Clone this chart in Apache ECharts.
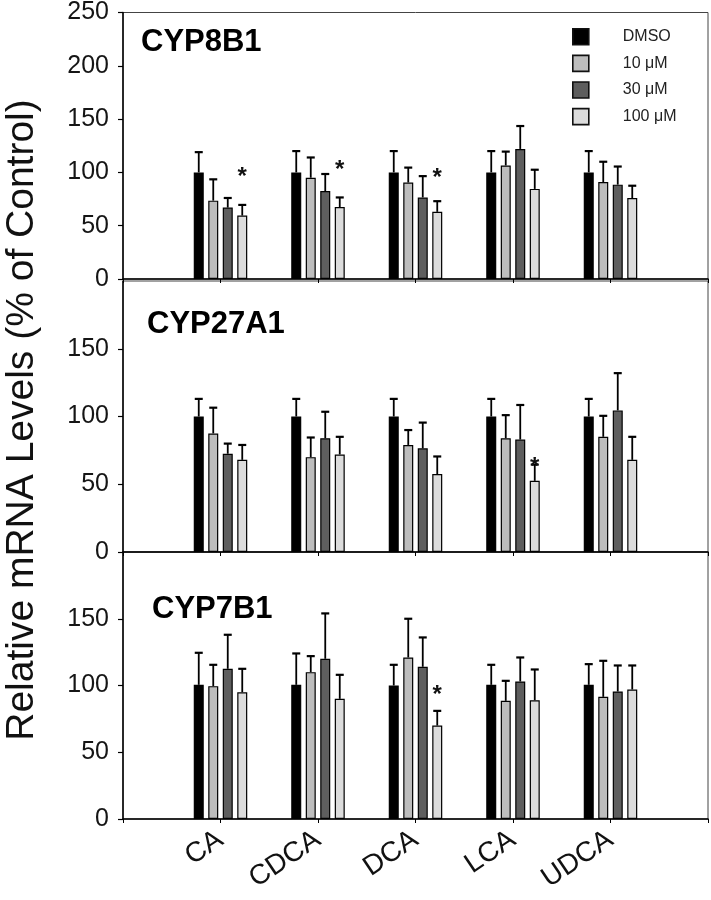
<!DOCTYPE html>
<html>
<head>
<meta charset="utf-8">
<script src="https://cdn.jsdelivr.net/npm/echarts@6/dist/echarts.min.js"></script>
<style>
html,body{margin:0;padding:0;background:#fff;}
#chart{width:711px;height:900px;}
</style>
</head>
<body>
<div id="chart"></div>
<script>
// ---------- DATA ----------
const groups = ['CA', 'CDCA', 'DCA', 'LCA', 'UDCA'];
const seriesNames = ['DMSO', '10 μM', '30 μM', '100 μM'];
const panelTitles = ['CYP8B1', 'CYP27A1', 'CYP7B1'];
const yTitle = 'Relative mRNA Levels (% of Control)';

const yTicksTop = [0, 50, 100, 150, 200, 250];
const yTicksLower = [0, 50, 100, 150];

// CYP8B1
const cyp8b1_dmso = [100, 100, 100, 100, 100];
const cyp8b1_dmso_err = [19, 20, 20, 20, 20];
const cyp8b1_10 = [73.5, 95, 90.5, 106.5, 91];
const cyp8b1_10_err = [20, 19, 14, 13, 19];
const cyp8b1_30 = [67, 82.5, 76.5, 122, 88.5];
const cyp8b1_30_err = [9, 16, 20, 21.5, 17];
const cyp8b1_100 = [59.5, 67.5, 63, 84.5, 76];
const cyp8b1_100_err = [10, 9, 10, 18, 11.5];
const cyp8b1_sig = [['CA', 3, 100], ['CDCA', 3, 107], ['DCA', 3, 99]];

// CYP27A1
const cyp27a1_dmso = [100, 100, 100, 100, 100];
const cyp27a1_dmso_err = [13, 13, 13, 13, 13];
const cyp27a1_10 = [87.5, 70, 79, 84, 85];
const cyp27a1_10_err = [19, 14.5, 11, 17, 15.5];
const cyp27a1_30 = [72.5, 84, 76.5, 83, 104.5];
const cyp27a1_30_err = [7.5, 19.5, 19, 25.5, 27.5];
const cyp27a1_100 = [68, 72, 57.5, 52.5, 68];
const cyp27a1_100_err = [11, 13, 13, 12, 17];
const cyp27a1_sig = [['LCA', 3, 66]];

// CYP7B1
const cyp7b1_dmso = [100.5, 100.5, 100, 100.5, 100.5];
const cyp7b1_dmso_err = [24, 23.5, 15.5, 15, 15.5];
const cyp7b1_10 = [99.5, 110, 121, 88.5, 91.5];
const cyp7b1_10_err = [16, 12, 29, 15, 27];
const cyp7b1_30 = [112.5, 120, 114, 103, 95.5];
const cyp7b1_30_err = [25.5, 34, 22, 18, 19.5];
const cyp7b1_100 = [95, 90, 70, 89, 97];
const cyp7b1_100_err = [17.5, 18, 11, 23, 18];
const cyp7b1_sig = [['DCA', 3, 96]];

// ---------- BUILD ----------
const panels = [
  { means: [cyp8b1_dmso, cyp8b1_10, cyp8b1_30, cyp8b1_100],
    errs: [cyp8b1_dmso_err, cyp8b1_10_err, cyp8b1_30_err, cyp8b1_100_err],
    sig: cyp8b1_sig, ymax: 250 },
  { means: [cyp27a1_dmso, cyp27a1_10, cyp27a1_30, cyp27a1_100],
    errs: [cyp27a1_dmso_err, cyp27a1_10_err, cyp27a1_30_err, cyp27a1_100_err],
    sig: cyp27a1_sig, ymax: 200 },
  { means: [cyp7b1_dmso, cyp7b1_10, cyp7b1_30, cyp7b1_100],
    errs: [cyp7b1_dmso_err, cyp7b1_10_err, cyp7b1_30_err, cyp7b1_100_err],
    sig: cyp7b1_sig, ymax: 200 }
];

const cats = [''].concat(groups).concat(['']);
const fills = ['#000000', '#bdbdbd', '#5e5e5e', '#dcdcdc'];
const BAR_W = 10, BAR_GAP = '45%';
const FONT = 'Liberation Sans, Arial, sans-serif';

const grids = [
  { left: 123, top: 10, width: 585, height: 269 },
  { left: 123, top: 281, width: 585, height: 271 },
  { left: 123, top: 552, width: 585, height: 267 }
].map(g => Object.assign(g, { show: true, borderColor: '#444', borderWidth: 1, containLabel: false }));

const xAxes = panels.map((p, i) => ({
  type: 'category', gridIndex: i, data: cats, boundaryGap: false,
  axisLine: { lineStyle: { color: '#000', width: 1.5 } },
  axisTick: { show: true, length: 4, lineStyle: { color: '#000', width: 1 } },
  axisLabel: i === 2 ? {
    show: true, rotate: 34, fontSize: 28, color: '#111', fontFamily: FONT, margin: 18, interval: 0
  } : { show: false },
  splitLine: { show: false }
}));

const yAxes = panels.map((p, i) => ({
  type: 'value', gridIndex: i, min: 0, max: p.ymax, interval: 50,
  axisLine: { show: true, lineStyle: { color: '#000', width: 1.5 } },
  axisTick: { show: true, length: 5, lineStyle: { color: '#000', width: 1.2 } },
  axisLabel: {
    fontSize: 25, color: '#151515', fontFamily: FONT, margin: 14,
    showMaxLabel: i === 0,
    formatter: v => ((i === 0 ? yTicksTop : yTicksLower).indexOf(v) >= 0 ? String(v) : '')
  },
  splitLine: { show: false }
}));

const series = [];
panels.forEach((p, pi) => {
  seriesNames.forEach((name, si) => {
    series.push({
      type: 'bar', name: name, xAxisIndex: pi, yAxisIndex: pi,
      barWidth: BAR_W, barGap: BAR_GAP,
      data: [null].concat(p.means[si]).concat([null]),
      itemStyle: { color: fills[si], borderColor: '#000', borderWidth: 1.2 },
      z: 2, silent: true
    });
  });
  seriesNames.forEach((name, si) => {
    const data = p.means[si].map((m, gi) => [gi + 1, m, p.errs[si][gi]]);
    series.push({
      type: 'custom', name: 'err' + pi + si, xAxisIndex: pi, yAxisIndex: pi, z: 3, silent: true,
      data: data,
      renderItem: function (params, api) {
        const layout = api.barLayout({ barWidth: BAR_W, barGap: BAR_GAP, count: 4 });
        const off = layout[si].offsetCenter;
        const base = api.coord([api.value(0), api.value(1)]);
        const top = api.coord([api.value(0), api.value(1) + api.value(2)]);
        const x = base[0] + off;
        return {
          type: 'group', children: [
            { type: 'line', shape: { x1: x, y1: base[1], x2: x, y2: top[1] },
              style: { stroke: '#000', lineWidth: 1.8 } },
            { type: 'line', shape: { x1: x - 4, y1: top[1], x2: x + 4, y2: top[1] },
              style: { stroke: '#000', lineWidth: 2.2 } }
          ]
        };
      }
    });
  });
  const sigData = p.sig.map(s => [groups.indexOf(s[0]) + 1, s[2], s[1]]);
  series.push({
    type: 'custom', name: 'sig' + pi, xAxisIndex: pi, yAxisIndex: pi, z: 4, silent: true,
    data: sigData,
    renderItem: function (params, api) {
      const layout = api.barLayout({ barWidth: BAR_W, barGap: BAR_GAP, count: 4 });
      const pt = api.coord([api.value(0), api.value(1)]);
      const si = api.value(2);
      return {
        type: 'text', x: pt[0] + layout[si].offsetCenter, y: pt[1] + 5,
        style: { text: '*', font: 'bold 24px ' + FONT, fill: '#111',
                 textAlign: 'center', textVerticalAlign: 'middle' }
      };
    }
  });
});

const titleX = [141, 147, 152];
const titleY = [43, 325, 610];
const graphics = panelTitles.map((t, i) => ({
  type: 'text', left: titleX[i], top: titleY[i] - 16,
  style: { text: t, font: 'bold 31px ' + FONT, fill: '#000' }
}));
graphics.push({
  type: 'text', x: 22, y: 420, rotation: Math.PI / 2,
  style: { text: yTitle, font: '39px ' + FONT, fill: '#111', textAlign: 'center', textVerticalAlign: 'middle' }
});

const chart = echarts.init(document.getElementById('chart'), null, { renderer: 'canvas' });
chart.setOption({
  animation: false,
  backgroundColor: '#fff',
  grid: grids,
  xAxis: xAxes,
  yAxis: yAxes,
  legend: {
    data: seriesNames, orient: 'vertical', left: 572, top: 28, padding: 0,
    itemWidth: 16, itemHeight: 16, itemGap: 9, icon: 'rect',
    itemStyle: { borderWidth: 1.6, borderColor: '#111' },
    textStyle: { fontSize: 16, lineHeight: 16, color: '#222', fontFamily: FONT, padding: [0, 0, 0, 29] },
    selectedMode: false
  },
  graphic: graphics,
  series: series
});
</script>
</body>
</html>
